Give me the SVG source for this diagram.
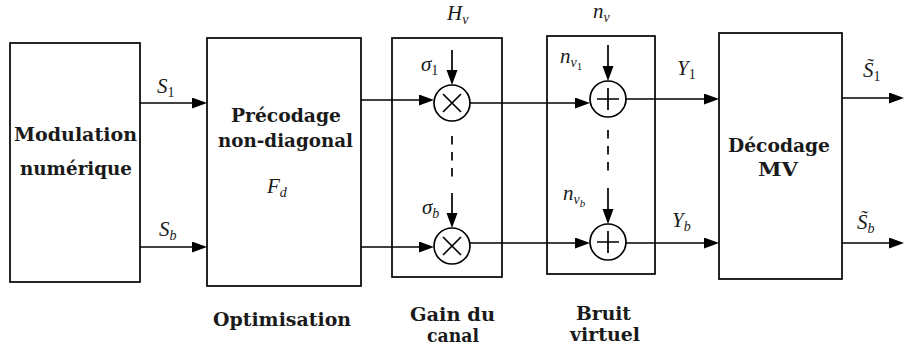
<svg xmlns="http://www.w3.org/2000/svg" width="904" height="347" viewBox="0 0 904 347">
<defs>
<marker id="ah" markerUnits="userSpaceOnUse" markerWidth="16" markerHeight="12" refX="10" refY="5.5" orient="auto">
<path d="M0,0 L15,5.5 L0,11 Z" fill="#000"/>
</marker>
<style>
.box{fill:#fff;stroke:#000;stroke-width:1.7}
.ln{fill:none;stroke:#000;stroke-width:1.7}
.arr{fill:none;stroke:#000;stroke-width:1.7;marker-end:url(#ah)}
.dash{fill:none;stroke:#000;stroke-width:1.7;stroke-dasharray:8.5 7.5}
.op{fill:#fff;stroke:#000;stroke-width:1.7}
.b{font-family:"DejaVu Serif","Liberation Serif",serif;font-weight:bold;font-size:19px;text-anchor:middle;fill:#1a1a1a}
.m{font-family:"Liberation Serif","DejaVu Serif",serif;font-style:italic;font-size:21px;fill:#1a1a1a}
.s{font-size:14px}
.ss{font-size:11px}
.up{font-style:normal}
</style>
</defs>
<rect width="904" height="347" fill="#fff"/>

<g id="modulation">
<rect class="box" x="10" y="43" width="130" height="239"/>
<text class="b" x="75.5" y="141" textLength="123" lengthAdjust="spacingAndGlyphs">Modulation</text>
<text class="b" x="76" y="175" textLength="112" lengthAdjust="spacingAndGlyphs">numérique</text>
</g>

<g id="precodage">
<rect class="box" x="207" y="38" width="154" height="248"/>
<text class="b" x="286" y="122" textLength="110" lengthAdjust="spacingAndGlyphs">Précodage</text>
<text class="b" x="285.5" y="147" textLength="135" lengthAdjust="spacingAndGlyphs">non-diagonal</text>
<text class="m" x="267" y="193">F<tspan class="s" dy="4">d</tspan></text>
</g>

<g id="gain">
<rect class="box" x="392" y="38" width="110" height="239"/>
<circle class="op" cx="452" cy="103" r="18"/>
<path class="ln" d="M443,94 L461,112 M461,94 L443,112"/>
<circle class="op" cx="452" cy="246" r="18"/>
<path class="ln" d="M443,237 L461,255 M461,237 L443,255"/>
</g>

<g id="bruit">
<rect class="box" x="547" y="36" width="108" height="238"/>
<circle class="op" cx="608" cy="99" r="18"/>
<path class="ln" d="M597,99 L619,99 M608,88 L608,110"/>
<circle class="op" cx="608" cy="242" r="18"/>
<path class="ln" d="M597,242 L619,242 M608,231 L608,253"/>
</g>

<g id="decodage">
<rect class="box" x="719" y="33" width="123" height="246"/>
<text class="b" x="779" y="152" textLength="102" lengthAdjust="spacingAndGlyphs">Décodage</text>
<text class="b" x="778" y="176" textLength="40" lengthAdjust="spacingAndGlyphs">MV</text>
</g>

<g id="connectors">
<line class="arr" x1="140" y1="103" x2="202" y2="103"/>
<line class="arr" x1="140" y1="247" x2="202" y2="247"/>
<line class="arr" x1="361" y1="100" x2="429" y2="100"/>
<line class="arr" x1="361" y1="247" x2="429" y2="247"/>
<line class="arr" x1="470" y1="103" x2="585" y2="103"/>
<line class="arr" x1="470" y1="243" x2="585" y2="243"/>
<line class="arr" x1="626" y1="99" x2="714" y2="99"/>
<line class="arr" x1="626" y1="243" x2="714" y2="243"/>
<line class="arr" x1="842" y1="98" x2="899" y2="98"/>
<line class="arr" x1="842" y1="243" x2="899" y2="243"/>
<line class="arr" x1="452" y1="50" x2="452" y2="80"/>
<line class="arr" x1="452" y1="193" x2="452" y2="223"/>
<line class="arr" x1="608" y1="45" x2="608" y2="76"/>
<line class="arr" x1="608" y1="188" x2="608" y2="219"/>
<line class="dash" x1="452" y1="136" x2="452" y2="178"/>
<line class="dash" x1="608" y1="130" x2="608" y2="172"/>
</g>

<g id="labels">
<text class="m" x="157" y="93">S<tspan class="s up" dy="4">1</tspan></text>
<text class="m" x="159" y="236">S<tspan class="s" dy="4">b</tspan></text>
<text class="m" x="447" y="20">H<tspan class="s" dy="4">v</tspan></text>
<text class="m" x="593" y="18">n<tspan class="s" dy="4">v</tspan></text>
<text class="m" x="421" y="71">σ<tspan class="s up" dy="4">1</tspan></text>
<text class="m" x="422" y="214">σ<tspan class="s" dy="4">b</tspan></text>
<text class="m" x="560" y="63">n<tspan class="s" dy="4">v</tspan><tspan class="ss up" dy="3">1</tspan></text>
<text class="m" x="563" y="200">n<tspan class="s" dy="4">v</tspan><tspan class="ss" dy="3">b</tspan></text>
<text class="m" x="677" y="75">Y<tspan class="s up" dy="4">1</tspan></text>
<text class="m" x="672" y="227">Y<tspan class="s" dy="4">b</tspan></text>
<text class="m" x="863" y="77">S̃<tspan class="s up" dy="4">1</tspan></text>
<text class="m" x="857" y="229">S̃<tspan class="s" dy="4">b</tspan></text>
<text class="b" x="282" y="326" textLength="138" lengthAdjust="spacingAndGlyphs">Optimisation</text>
<text class="b" x="452.5" y="321" textLength="85" lengthAdjust="spacingAndGlyphs">Gain du</text>
<text class="b" x="453" y="342" textLength="52" lengthAdjust="spacingAndGlyphs">canal</text>
<text class="b" x="603.5" y="320" textLength="55" lengthAdjust="spacingAndGlyphs">Bruit</text>
<text class="b" x="605" y="341" textLength="70" lengthAdjust="spacingAndGlyphs">virtuel</text>
</g>
</svg>
